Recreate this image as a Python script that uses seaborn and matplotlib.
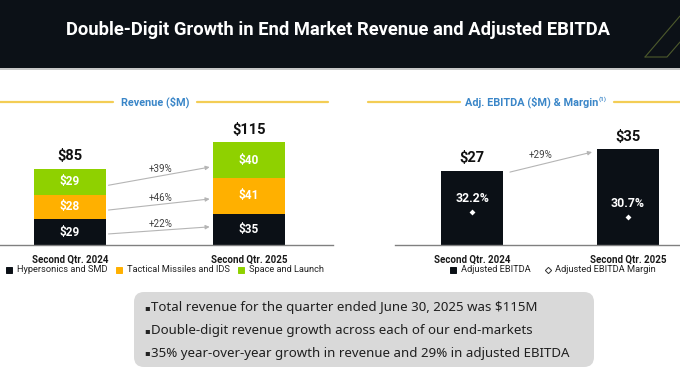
import matplotlib
matplotlib.use("Agg")
import matplotlib.pyplot as plt
import seaborn as sns
import numpy as np
import pandas as pd
from matplotlib.patches import Rectangle, FancyBboxPatch

# ---------------- data ----------------
periods = ["Second Qtr. 2024", "Second Qtr. 2025"]
segments = ["Hypersonics and SMD", "Tactical Missiles and IDS", "Space and Launch"]
hypersonics = [29, 35]
tactical = [28, 41]
space = [29, 40]
revenue_totals = [85, 115]
growth_labels = ["+22%", "+46%", "+39%"]  # hypersonics, tactical, space

ebitda = [27, 35]
ebitda_margin = [32.2, 30.7]
ebitda_growth = "+29%"
ebitda_series = ["Adjusted EBITDA", "Adjusted EBITDA Margin"]

title = "Double-Digit Growth in End Market Revenue and Adjusted EBITDA"
rev_title = "Revenue ($M)"
ebitda_title = "Adj. EBITDA ($M) & Margin"
bullets = [
    "Total revenue for the quarter ended June 30, 2025 was $115M",
    "Double-digit revenue growth across each of our end-markets",
    "35% year-over-year growth in revenue and 29% in adjusted EBITDA",
]

# ---------------- style ----------------
sns.set_theme(style="white")
plt.rcParams["font.family"] = ["Roboto", "DejaVu Sans"]
plt.rcParams["text.parse_math"] = False

BLACK = "#0b1016"
ORANGE = "#ffb000"
GREEN = "#8fd100"
BLUE = "#3a86c8"
YELLOW = "#f3cd55"
seg_colors = [BLACK, ORANGE, GREEN]

W, H = 680, 376
fig = plt.figure(figsize=(W / 100, H / 100), dpi=100)


def px_axes(x0, y0, x1, y1, **kw):
    return fig.add_axes([x0 / W, (H - y1) / H, (x1 - x0) / W, (y1 - y0) / H], **kw)


# background overlay in pixel coordinates
bg = px_axes(0, 0, W, H, zorder=0)
bg.set_xlim(0, W)
bg.set_ylim(H, 0)
bg.axis("off")

# header
bg.add_patch(Rectangle((0, 0), W, 68, color="#0c1117", lw=0))
bg.plot([0, W], [68.5, 68.5], color="#bdbdbd", lw=1.2)
bg.text(338, 30, title, color="white", fontsize=13.2, fontweight="bold",
        ha="center", va="center", family=["Roboto", "DejaVu Sans"])
# decorative outline
bg.plot([645, 667, 680], [57, 57, 42], color="#4d5a2c", lw=0.8)
bg.plot([645, 680], [57, 16], color="#4d5a2c", lw=0.8)

# section titles
bg.plot([0, 113], [102, 102], color=YELLOW, lw=1.6)
bg.plot([197, 328], [102, 102], color=YELLOW, lw=1.6)
bg.text(155, 102, rev_title, color=BLUE, fontsize=7.8, fontweight="bold",
        ha="center", va="center")
bg.plot([368, 460], [102, 102], color=YELLOW, lw=1.6)
bg.plot([614, 680], [102, 102], color=YELLOW, lw=1.6)
t_e = bg.text(465, 102, ebitda_title, color=BLUE, fontsize=7.8, fontweight="bold",
              ha="left", va="center")

# ---------------- revenue chart ----------------
ax = px_axes(0, 120, 333, 245, zorder=1)
ax.patch.set_alpha(0)
stack = np.array([hypersonics, tactical, space], dtype=float)
cum = np.cumsum(stack, axis=0)
for i in reversed(range(3)):
    sns.barplot(x=periods, y=cum[i], color=seg_colors[i], width=0.40,
                saturation=1, ax=ax, linewidth=0)
for j in range(2):
    for i in range(3):
        mid = cum[i][j] - stack[i][j] / 2
        ax.text(j, mid, f"${int(stack[i][j])}", color="white", fontsize=8.5,
                fontweight="bold", ha="center", va="center")
    ax.annotate(f"${revenue_totals[j]}", (j, cum[2][j]), xytext=(0, 4),
                textcoords="offset points", ha="center", va="bottom",
                fontsize=10.5, fontweight="bold", color="#111111")

arrow_pts = [((0.215, 12.5), (0.78, 20.5), 23.5),
             ((0.215, 39.5), (0.78, 52.0), 53.0),
             ((0.215, 67.5), (0.78, 88.0), 86.0)]
for (s, e, ly), lab in zip(arrow_pts, growth_labels):
    ax.annotate("", xy=e, xytext=s,
                arrowprops=dict(arrowstyle="-|>", color="#b5b5b5", lw=0.8,
                                mutation_scale=6, shrinkA=0, shrinkB=0))
    ax.text(0.505, ly, lab, fontsize=7, color="#404040", ha="center", va="center")

ax.set_xlim(-0.391, 1.469)
ax.set_ylim(0, 141.2)
ax.set_yticks([])
ax.set_xlabel("")
ax.set_ylabel("")
for sp in ["top", "left", "right"]:
    ax.spines[sp].set_visible(False)
ax.spines["bottom"].set_color("#808080")
ax.spines["bottom"].set_linewidth(1)
ax.tick_params(axis="x", length=0, pad=7)
for lbl in ax.get_xticklabels():
    lbl.set_fontweight("bold")
    lbl.set_fontsize(7)
    lbl.set_color("#1a1a1a")

# ---------------- EBITDA chart ----------------
ax3 = px_axes(395, 120, 680, 245, zorder=1)
ax3.patch.set_alpha(0)
sns.barplot(x=periods, y=ebitda, color=BLACK, width=0.397, saturation=1,
            ax=ax3, linewidth=0)
for j in range(2):
    ax3.annotate(f"${ebitda[j]}", (j, ebitda[j]), xytext=(0, 4),
                 textcoords="offset points", ha="center", va="bottom",
                 fontsize=10.5, fontweight="bold", color="#111111")
ax3.annotate("", xy=(0.769, 33.9), xytext=(0.243, 26.6),
             arrowprops=dict(arrowstyle="-|>", color="#b5b5b5", lw=0.8,
                             mutation_scale=6, shrinkA=0, shrinkB=0))
ax3.text(0.436, 32.8, ebitda_growth, fontsize=7, color="#404040",
         ha="center", va="center")
ax3.set_xlim(-0.494, 1.333)
ax3.set_ylim(0, 45.6)
ax3.set_yticks([])
ax3.set_xlabel("")
ax3.set_ylabel("")
for sp in ["top", "left", "right"]:
    ax3.spines[sp].set_visible(False)
ax3.spines["bottom"].set_color("#808080")
ax3.spines["bottom"].set_linewidth(1)
ax3.tick_params(axis="x", length=0, pad=7)
for lbl in ax3.get_xticklabels():
    lbl.set_fontweight("bold")
    lbl.set_fontsize(7)
    lbl.set_color("#1a1a1a")

ax4 = ax3.twinx()
sns.scatterplot(x=periods, y=ebitda_margin, marker="D", color="white", s=9,
                linewidth=0, ax=ax4, zorder=5)
for j in range(2):
    ax4.annotate(f"{ebitda_margin[j]}%", (periods[j], ebitda_margin[j]),
                 xytext=(0, 9.5), textcoords="offset points", ha="center",
                 va="center", fontsize=8.8, fontweight="bold", color="white")
ax4.set_ylim(22.3, 59.8)
ax4.set_yticks([])
ax4.set_ylabel("")
for sp in ax4.spines.values():
    sp.set_visible(False)
ax3.set_xlim(-0.494, 1.333)

# ---------------- legends ----------------
leg_y = 270
leg_items = [(9, 17, segments[0], "s", BLACK, BLACK),
             (119, 127, segments[1], "s", ORANGE, ORANGE),
             (241, 249, segments[2], "s", GREEN, GREEN),
             (453, 461, ebitda_series[0], "s", BLACK, BLACK),
             (548, 555, ebitda_series[1], "D", "white", "#333333")]
for mx, tx, lab, mk, fc, ec in leg_items:
    bg.plot([mx], [leg_y], marker=mk, markersize=4.2 if mk == "s" else 3.2,
            markerfacecolor=fc, markeredgecolor=ec, markeredgewidth=0.7, ls="none")
    bg.text(tx, leg_y, lab, fontsize=6.7, color="#222222", ha="left", va="center")

# ---------------- bullet box ----------------
bg.add_patch(FancyBboxPatch((134, 292), 460, 75,
                            boxstyle="round,pad=0,rounding_size=10",
                            facecolor="#d9d9d9", edgecolor="none"))

# choose a font whose proportions fit the reference line lengths best
target_w = np.array([384.0, 381.0, 415.0])
renderer = fig.canvas.get_renderer()
best = None
for fam in ["Lato", "Inter", "Open Sans", "Noto Sans", "Roboto", "Liberation Sans",
            "DejaVu Sans"]:
    ws = []
    for line in bullets:
        t = bg.text(0, 0, line, fontsize=10, family=[fam, "DejaVu Sans"])
        ws.append(t.get_window_extent(renderer).width)
        t.remove()
    ws = np.array(ws)
    s = (ws @ target_w) / (ws @ ws)
    err = np.sum((s * ws - target_w) ** 2)
    if best is None or err < best[0]:
        best = (err, fam, 10 * s)
_, bfam, bsize = best

for k, line in enumerate(bullets):
    y = 308 + k * 22.5
    bg.text(144, y, "\u25aa", fontsize=6, color="#222222", ha="left", va="center",
            family=["DejaVu Sans"])
    bg.text(151, y, line, fontsize=bsize, color="#1f1f1f", ha="left", va="center",
            family=[bfam, "DejaVu Sans"])

# superscript after EBITDA title
fig.canvas.draw()
bb = t_e.get_window_extent()
x_end = bb.x1 / fig.dpi * 100
bg.text(x_end + 0.5, 99, "(1)", color=BLUE, fontsize=4.5, fontweight="bold",
        ha="left", va="center")

fig.savefig("out.png", dpi=100)
